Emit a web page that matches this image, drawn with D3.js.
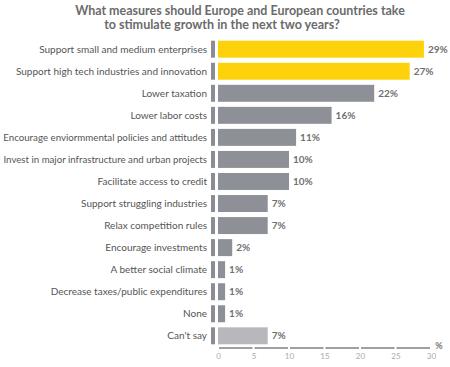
<!DOCTYPE html>
<html><head><meta charset="utf-8">
<script src="https://cdn.jsdelivr.net/npm/d3@7"></script>
<style>body{margin:0;background:#fff;}</style>
</head><body><svg id="c" width="450" height="367"></svg>
<script>
const categories = ["Support small and medium enterprises","Support high tech industries and innovation","Lower taxation","Lower labor costs","Encourage enviormmental policies and attitudes","Invest in major infrastructure and urban projects","Facilitate access to credit","Support struggling industries","Relax competition rules","Encourage investments","A better social climate","Decrease taxes/public expenditures","None","Can't say"];
const values = [29,27,22,16,11,10,10,7,7,2,1,1,1,7];
const highlight = [true,true,false,false,false,false,false,false,false,false,false,false,false,false];
const tickValues = [0,5,10,15,20,25,30];
const titleLines = ["What measures should Europe and European countries take","to stimulate growth in the next two years?"];

const svg = d3.select("#c");
const x = d3.scaleLinear().domain([0,30]).range([218,431]);
const y = d3.scaleBand().domain(categories).range([38.5,346.5]).paddingInner(0.23).paddingOuter(0.1);

const titleSpan = [[75,405],[104,340]];
svg.selectAll("text.title").data(titleLines).join("text")
  .attr("class","title")
  .attr("x",(d,i)=> (titleSpan[i][0]+titleSpan[i][1])/2).attr("y",(d,i)=>15+i*13.5)
  .attr("text-anchor","middle")
  .attr("font-family","Lato, sans-serif").attr("font-weight","bold")
  .attr("font-size",12).attr("fill","#6b6b6b").text(d=>d)
  .each(function(d,i){
    const w = this.getComputedTextLength();
    const target = titleSpan[i][1]-titleSpan[i][0];
    d3.select(this).attr("font-size", 12*target/w);
  });

const rows = svg.selectAll("g.row").data(categories).join("g").attr("class","row");
rows.append("rect").attr("x",211).attr("width",4)
  .attr("y",d=>y(d)).attr("height",y.bandwidth()).attr("fill","#8c8d94");
rows.append("rect").attr("x",x(0)).attr("y",d=>y(d)).attr("height",y.bandwidth())
  .attr("width",(d,i)=>x(values[i])-x(0))
  .attr("fill",(d,i)=> highlight[i] ? "#fdd20a" : (i===categories.length-1 ? "#b7b8bc" : "#8e9097"));
rows.append("text").attr("x",207).attr("y",d=>y(d)+y.bandwidth()/2).attr("dy","0.35em")
  .attr("text-anchor","end").attr("font-family","Lato, sans-serif")
  .attr("font-size",10).attr("fill","#555").text(d=>d)
  .each(function(){
    const w = this.getComputedTextLength();
    if (w > 204) d3.select(this).attr("font-size", 10*204/w);
  });
rows.append("text").attr("x",(d,i)=>x(values[i])+4).attr("y",d=>y(d)+y.bandwidth()/2).attr("dy","0.35em")
  .attr("font-family","Lato, sans-serif").attr("font-weight","bold")
  .attr("font-size",10).attr("fill","#707070").text((d,i)=>values[i]+"%");

const axis = d3.axisBottom(x).tickValues(tickValues).tickSize(0).tickPadding(5);
const ax = svg.append("g").attr("transform","translate(0,348)").call(axis);
ax.select(".domain").remove();
ax.selectAll("text").attr("font-family","Lato, sans-serif").attr("font-size",8).attr("fill","#aaa");
const segs = d3.pairs(tickValues);
ax.selectAll("line.seg").data(segs).join("line").attr("class","seg")
  .attr("x1",d=>x(d[0])+1).attr("x2",d=>x(d[1])-1).attr("y1",0).attr("y2",0)
  .attr("stroke","#a0a0a4").attr("stroke-width",2);
svg.append("text").attr("x",439).attr("y",349).attr("text-anchor","middle")
  .attr("font-family","Lato, sans-serif").attr("font-weight","bold").attr("font-size",9)
  .attr("fill","#777").text("%");
</script></body></html>
